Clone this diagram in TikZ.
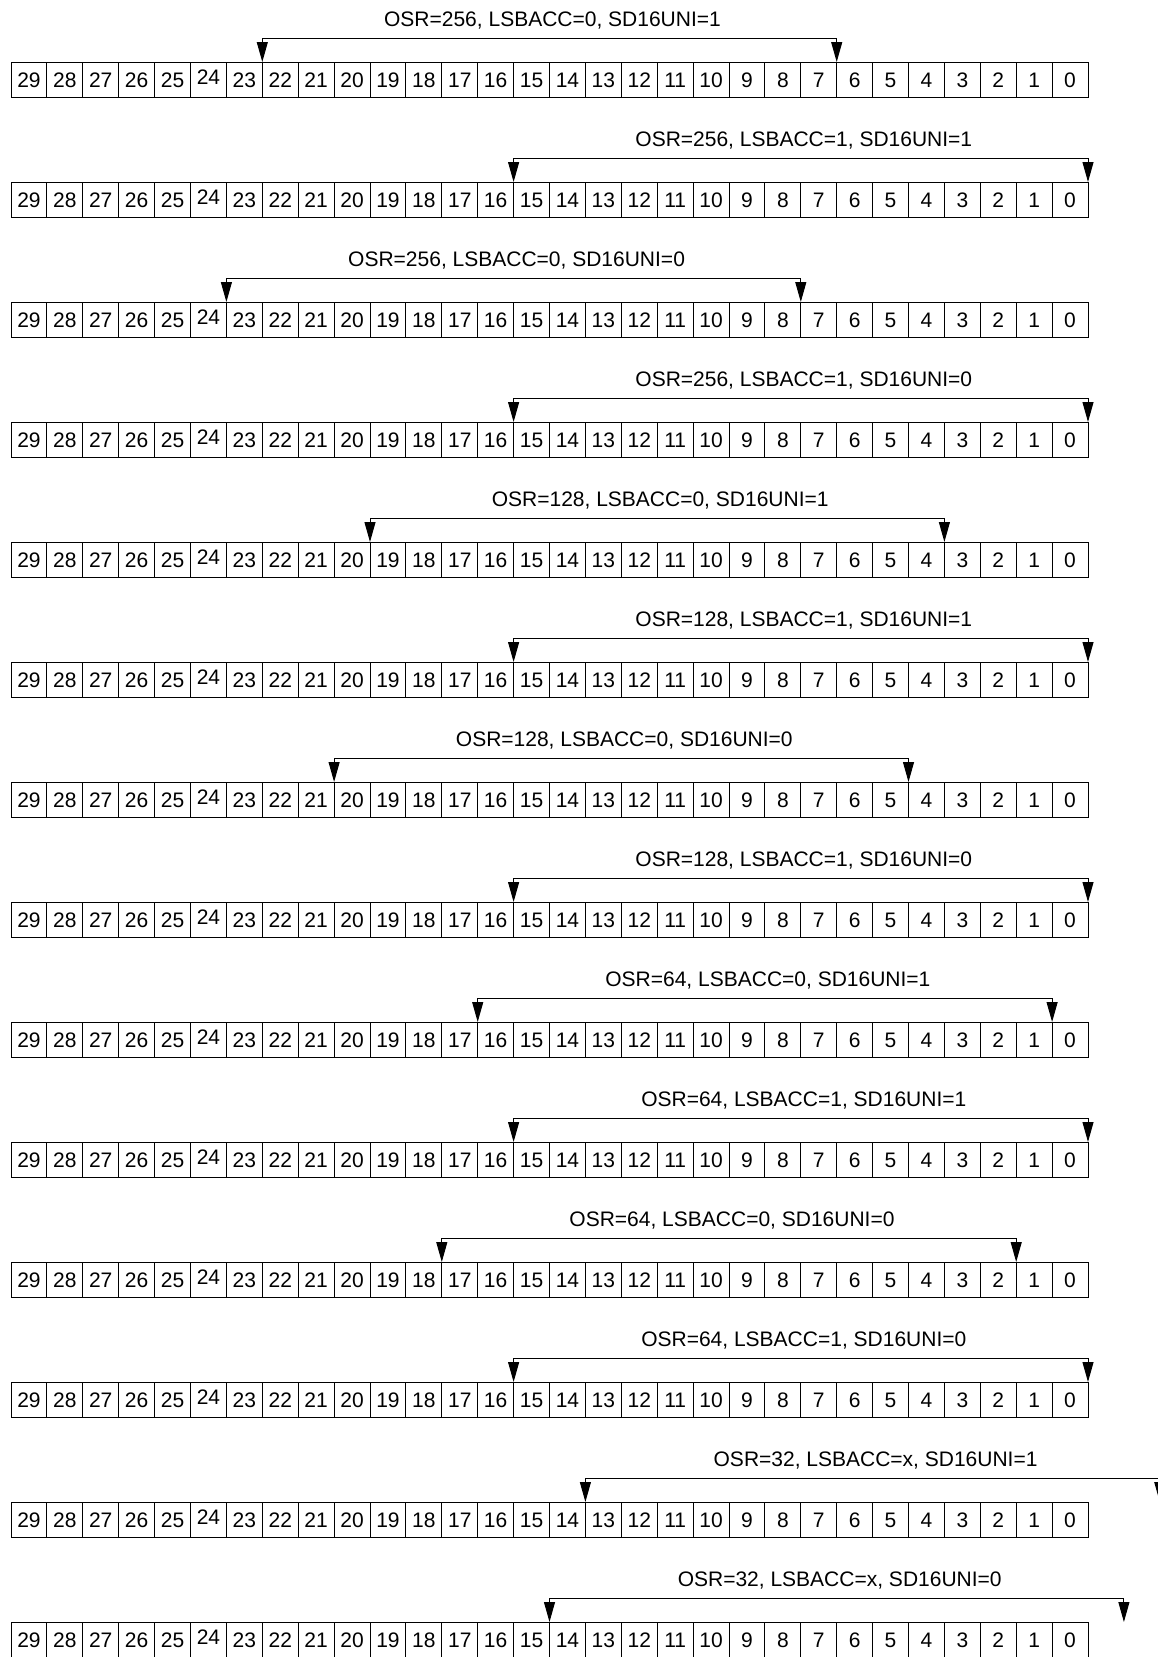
\documentclass[tikz,border=0pt]{standalone}
\usepackage{fontspec}
\setmainfont{Liberation Sans}
\usetikzlibrary{arrows.meta}

\begin{document}
\begin{tikzpicture}[x=1pt,y=1pt,
  cell/.style={draw, line width=1pt, minimum width=35.9pt, minimum height=35pt,
    inner sep=0pt, outer sep=0pt, text height=15pt, text depth=0pt,
    font=\fontsize{21}{25}\selectfont},
  span/.style={line width=1pt,
    {Triangle[length=20pt,width=11pt]}-{Triangle[length=20pt,width=11pt]}},
  lbl/.style={anchor=base, xshift=3pt, yshift=12pt, font=\fontsize{21}{25}\selectfont}]
  \useasboundingbox (0,0) rectangle (1158,-1657);

  % Registers, bits 29..0
  \foreach \row in {1,...,14} {
    \foreach \bit in {0,...,29} {
      \node[cell] (r\row b\bit) at ({11+(29.5-\bit)*35.9}, {-79.5-120*(\row-1)})
        {\ifnum\bit=24 \raisebox{2.3pt}{24}\else\bit\fi};
    }
  }

  % Ends past bit 0
  \coordinate (r13end) at ([xshift=71.8pt]r13b0.north east);
  \coordinate (r14end) at ([xshift=35.9pt]r14b0.north east);

  % Result windows
  \foreach \row/\lb/\rend/\txt in {
    1/22/r1b6.north west/{OSR=256, LSBACC=0, SD16UNI=1},
    2/15/r2b0.north east/{OSR=256, LSBACC=1, SD16UNI=1},
    3/23/r3b7.north west/{OSR=256, LSBACC=0, SD16UNI=0},
    4/15/r4b0.north east/{OSR=256, LSBACC=1, SD16UNI=0},
    5/19/r5b3.north west/{OSR=128, LSBACC=0, SD16UNI=1},
    6/15/r6b0.north east/{OSR=128, LSBACC=1, SD16UNI=1},
    7/20/r7b4.north west/{OSR=128, LSBACC=0, SD16UNI=0},
    8/15/r8b0.north east/{OSR=128, LSBACC=1, SD16UNI=0},
    9/16/r9b0.north west/{OSR=64, LSBACC=0, SD16UNI=1},
    10/15/r10b0.north east/{OSR=64, LSBACC=1, SD16UNI=1},
    11/17/r11b1.north west/{OSR=64, LSBACC=0, SD16UNI=0},
    12/15/r12b0.north east/{OSR=64, LSBACC=1, SD16UNI=0},
    13/13/r13end/{OSR=32, LSBACC=x, SD16UNI=1},
    14/14/r14end/{OSR=32, LSBACC=x, SD16UNI=0}} {
    \draw[span] (r\row b\lb.north west) -- ++(0,24) -| node[lbl, pos=0.25] {\txt} (\rend);
  }
\end{tikzpicture}
\end{document}
